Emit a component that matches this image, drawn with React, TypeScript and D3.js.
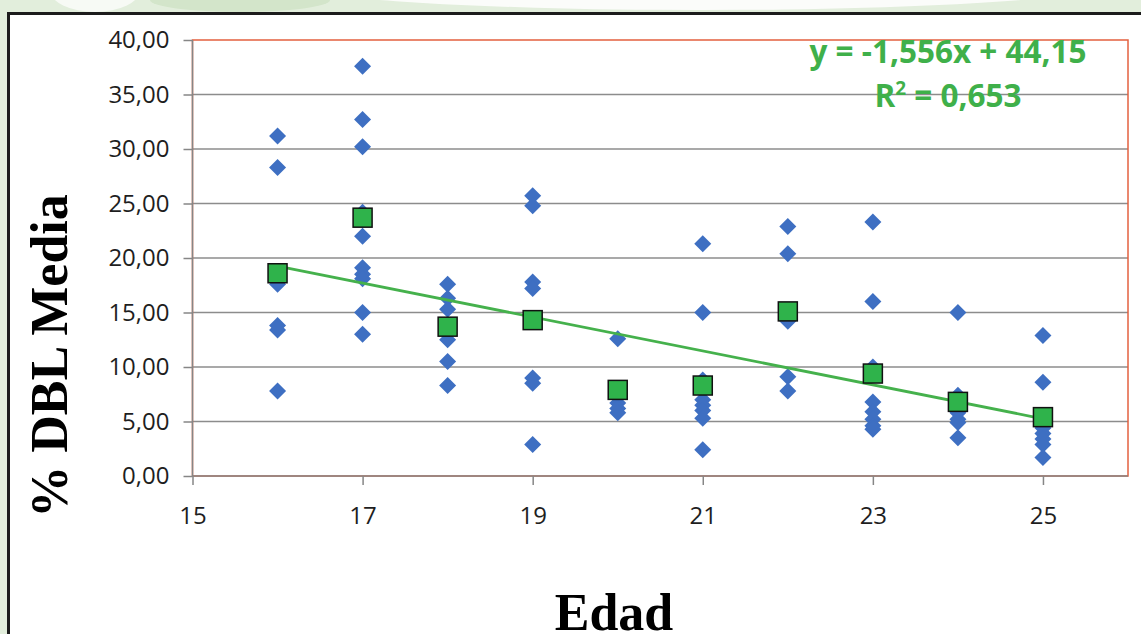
import React, { useRef, useEffect } from "react";
import * as d3 from "d3";

// edades (eje X)
const ages = [16, 17, 18, 19, 20, 21, 22, 23, 24, 25];

// % DBL de cada individuo, una lista por edad (mismo orden que ages)
const dbl16 = [31.2, 28.3, 17.6, 13.8, 13.4, 7.8];
const dbl17 = [37.6, 32.7, 30.2, 24.2, 22.0, 19.1, 18.5, 18.1, 15.0, 13.0];
const dbl18 = [17.6, 16.3, 15.3, 13.6, 12.5, 10.5, 8.3];
const dbl19 = [25.7, 24.8, 17.8, 17.2, 9.0, 8.5, 2.9];
const dbl20 = [12.6, 8.0, 6.7, 6.2, 5.8];
const dbl21 = [21.3, 15.0, 8.8, 7.0, 6.5, 6.0, 5.3, 2.4];
const dbl22 = [22.9, 20.4, 14.2, 9.1, 7.8];
const dbl23 = [23.3, 16.0, 10.0, 6.8, 5.9, 5.2, 4.6, 4.3];
const dbl24 = [15.0, 7.4, 5.8, 5.2, 4.9, 3.5];
const dbl25 = [12.9, 8.6, 4.4, 3.9, 3.4, 2.9, 1.7];
const dblByAge = [dbl16, dbl17, dbl18, dbl19, dbl20, dbl21, dbl22, dbl23, dbl24, dbl25];

// media por edad (cuadrados verdes)
const meanDbl = [18.6, 23.7, 13.7, 14.3, 7.9, 8.3, 15.1, 9.4, 6.8, 5.4];

// linea de tendencia mostrada en el grafico
const trendSlope = -1.556;
const trendIntercept = 44.15;
const trendLabel = "y = -1,556x + 44,15";
const r2Label = "0,653";

const xTicks = [15, 17, 19, 21, 23, 25];
const yTicks = [0, 5, 10, 15, 20, 25, 30, 35, 40];

const W = 1141;
const H = 634;

const App = () => {
  const ref = useRef(null);

  useEffect(() => {
    const svg = d3.select(ref.current);
    svg.selectAll("*").remove();

    // fondo verde palido + marco
    svg.append("rect").attr("width", W).attr("height", H).attr("fill", "#e2eedc");
    svg.append("ellipse").attr("cx", 95).attr("cy", -10).attr("rx", 45).attr("ry", 22).attr("fill", "#f7faf5");
    svg.append("ellipse").attr("cx", 700).attr("cy", -20).attr("rx", 430).attr("ry", 30).attr("fill", "#fbfcfa");
    svg.append("ellipse").attr("cx", 240).attr("cy", 0).attr("rx", 90).attr("ry", 12).attr("fill", "#d3e5ca");
    svg
      .append("rect")
      .attr("x", 8.5)
      .attr("y", 13.5)
      .attr("width", 1200)
      .attr("height", 700)
      .attr("fill", "#fff")
      .attr("stroke", "#1c1c1c")
      .attr("stroke-width", 3);

    const left = 192.5, right = 1128, top = 40, bottom = 476;

    const x = d3.scaleLinear().domain([15, 26]).range([left, right]);
    const y = d3.scaleLinear().domain([0, 40]).range([bottom, top]);

    // rejilla
    svg
      .append("g")
      .selectAll("line")
      .data(yTicks.filter((t) => t > 0 && t < 40))
      .enter()
      .append("line")
      .attr("x1", left)
      .attr("x2", right)
      .attr("y1", (d) => y(d))
      .attr("y2", (d) => y(d))
      .attr("stroke", "#8c8c8c")
      .attr("stroke-width", 1.5);

    // borde del area de trazado (rojo)
    svg
      .append("rect")
      .attr("x", left)
      .attr("y", top)
      .attr("width", right - left)
      .attr("height", bottom - top)
      .attr("fill", "none")
      .attr("stroke", "#e3603f")
      .attr("stroke-width", 1.5);

    // ejes
    const yAxis = svg
      .append("g")
      .attr("transform", `translate(${left},0)`)
      .call(
        d3
          .axisLeft(y)
          .tickValues(yTicks)
          .tickSize(9)
          .tickPadding(14)
          .tickFormat((d) => d3.format(".2f")(d).replace(".", ","))
      );
    const xAxis = svg
      .append("g")
      .attr("transform", `translate(0,${bottom})`)
      .call(d3.axisBottom(x).tickValues(xTicks).tickSize(9).tickPadding(22).tickFormat(d3.format("d")));

    [yAxis, xAxis].forEach((g) => {
      g.select(".domain").attr("stroke", "#868686").attr("stroke-width", 1.5);
      g.selectAll(".tick line").attr("stroke", "#868686").attr("stroke-width", 1.5);
      g.selectAll(".tick text")
        .attr("fill", "#1e1e1e")
        .style("font-family", "'Open Sans', sans-serif")
        .style("font-size", "24px");
    });
    xAxis.select(".domain").attr("d", `M${left},0H${right}`);
    yAxis.select(".domain").attr("d", `M0,${bottom}V${top}`);

    // puntos individuales (rombos)
    const points = ages.flatMap((a, i) => dblByAge[i].map((v) => ({ age: a, v })));
    const s = 8.5;
    svg
      .append("g")
      .selectAll("path")
      .data(points)
      .enter()
      .append("path")
      .attr("transform", (d) => `translate(${x(d.age)},${y(d.v)})`)
      .attr("d", `M0,${-s}L${s},0L0,${s}L${-s},0Z`)
      .attr("fill", "#3e6fc2");

    // linea de tendencia
    const ext = d3.extent(ages);
    svg
      .append("line")
      .attr("x1", x(ext[0]))
      .attr("y1", y(trendSlope * ext[0] + trendIntercept))
      .attr("x2", x(ext[1]))
      .attr("y2", y(trendSlope * ext[1] + trendIntercept))
      .attr("stroke", "#45b14c")
      .attr("stroke-width", 2.8);

    // medias (cuadrados)
    const q = 9.5;
    svg
      .append("g")
      .selectAll("rect")
      .data(meanDbl)
      .enter()
      .append("rect")
      .attr("x", (d, i) => x(ages[i]) - q)
      .attr("y", (d) => y(d) - q)
      .attr("width", q * 2)
      .attr("height", q * 2)
      .attr("fill", "#2fb34b")
      .attr("stroke", "#111")
      .attr("stroke-width", 1.5);

    // ecuacion
    const eq = svg
      .append("text")
      .attr("text-anchor", "middle")
      .attr("fill", "#3fb04a")
      .style("font-family", "'Open Sans', sans-serif")
      .style("font-weight", "bold")
      .style("font-size", "31.5px");
    eq.append("tspan").attr("x", 948).attr("y", 63).text(trendLabel);
    const l2 = eq.append("tspan").attr("x", 948).attr("y", 107);
    l2.append("tspan").text("R");
    l2.append("tspan").attr("dy", -12).style("font-size", "19px").text("2");
    l2.append("tspan").attr("dy", 12).text(" = " + r2Label);

    // titulos
    svg
      .append("text")
      .attr("transform", "translate(67,356) rotate(-90)")
      .attr("text-anchor", "middle")
      .style("font-family", "'Liberation Serif', serif")
      .style("font-weight", "bold")
      .style("font-size", "52px")
      .attr("fill", "#000")
      .text("% DBL Media");
    svg
      .append("text")
      .attr("x", 614)
      .attr("y", 630)
      .attr("text-anchor", "middle")
      .style("font-family", "'Liberation Serif', serif")
      .style("font-weight", "bold")
      .style("font-size", "52px")
      .attr("fill", "#000")
      .text("Edad");
  }, []);

  return (
    <div style={{ position: "absolute", left: 0, top: 0 }}>
      <svg ref={ref} width={W} height={H} style={{ display: "block" }} />
    </div>
  );
};

export default App;
